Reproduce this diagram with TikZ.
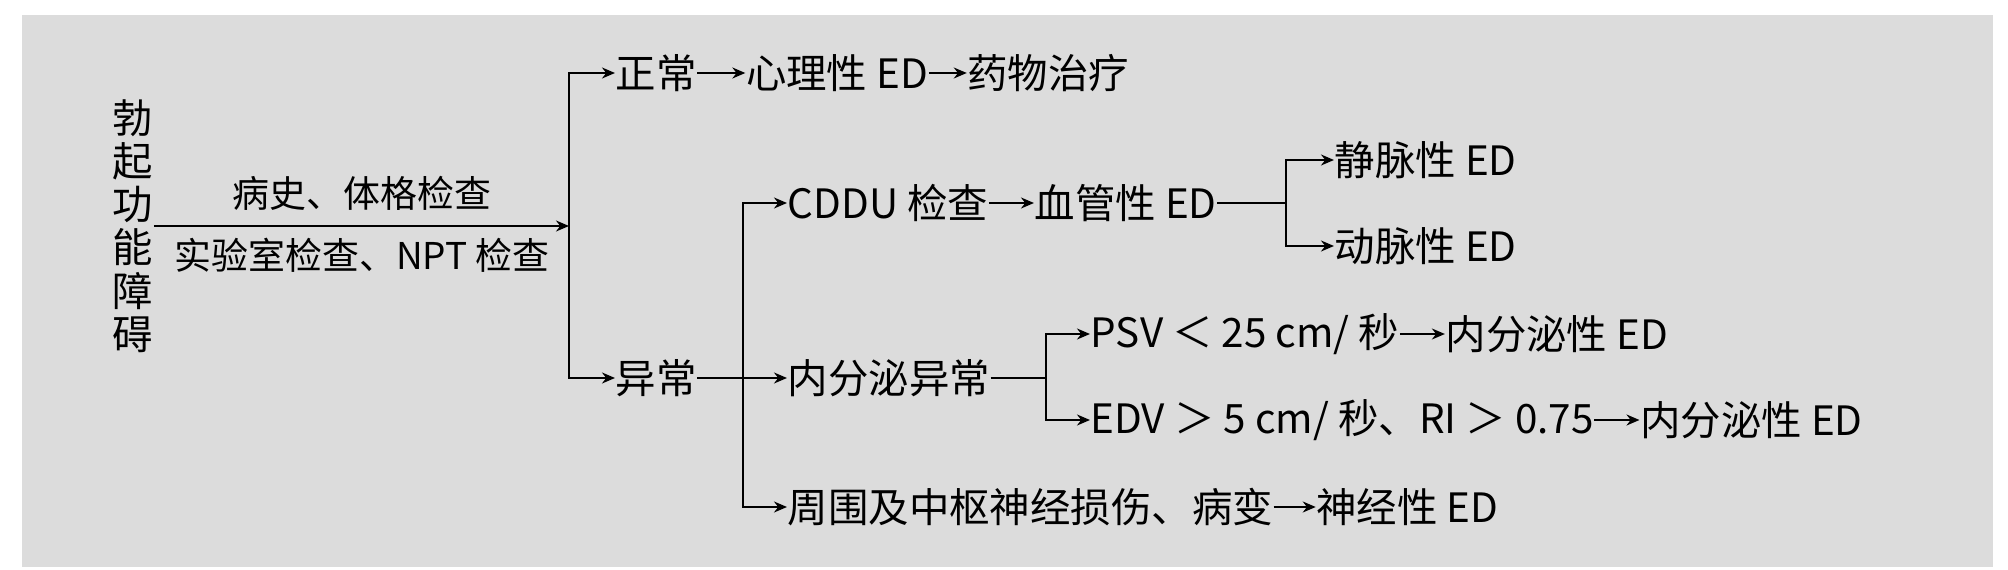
\documentclass[tikz,border=0pt]{standalone}
\usepackage{fontspec}
\setmainfont{Noto Sans CJK SC}
\usetikzlibrary{positioning,arrows.meta}
\definecolor{panel}{HTML}{DCDCDC}
\tikzset{
  lbl/.style={inner sep=0pt, anchor=west, font=\fontsize{11.5}{12.2}\selectfont},
  arr/.style={-{Stealth[length=1.3mm,width=1.1mm]}, line width=0.5pt},
  ln/.style={line width=0.5pt}
}
\begin{document}
\begin{tikzpicture}[x=0.01cm,y=-0.01cm]
\useasboundingbox (0,0) rectangle (2008,570);
\fill[panel] (22,15) rectangle (1993,567);
% root
\node[inner sep=0pt, align=center, font=\fontsize{11.5}{12.3}\selectfont] (root) at (133,226) {勃\\起\\功\\能\\障\\碍};
\coordinate (split) at (569,226);
\draw[arr] (root.east) -- (split);
\node[inner sep=0pt, font=\fontsize{10.5}{12}\selectfont] (hist) at (362,193) {病史、体格检查};
\node[inner sep=0pt, font=\fontsize{10.5}{12}\selectfont] (lab) at (362,255) {实验室检查、NPT 检查};
% normal
\node[lbl] (zc) at (615,73) {正常};
\node[lbl, right=0.48cm of zc] (xl) {心理性 ED};
\node[lbl, right=0.38cm of xl] (yw) {药物治疗};
\draw[arr] (split) |- (zc.west);
\draw[arr] (zc) -- (xl);
\draw[arr] (xl) -- (yw);
% abnormal
\node[lbl] (yc) at (615,378) {异常};
\draw[arr] (split) |- (yc.west);
\coordinate (split2) at (743,378);
\draw[ln] (yc) -- (split2);
\node[lbl] (cddu) at (787,203) {CDDU 检查};
\node[lbl, right=0.45cm of cddu] (xg) {血管性 ED};
\node[lbl] (nfm) at (787,378) {内分泌异常};
\node[lbl] (zw) at (787,507) {周围及中枢神经损伤、病变};
\node[lbl, right=0.42cm of zw] (sj) {神经性 ED};
\draw[arr] (split2) |- (cddu.west);
\draw[arr] (split2) -- (nfm.west);
\draw[arr] (split2) |- (zw.west);
\draw[arr] (cddu) -- (xg);
\draw[arr] (zw) -- (sj);
% vascular
\coordinate (split3) at (1286,203);
\node[lbl] (jm) at (1334,160) {静脉性 ED};
\node[lbl] (dm) at (1334,246) {动脉性 ED};
\draw[ln] (xg) -- (split3);
\draw[arr] (split3) |- (jm.west);
\draw[arr] (split3) |- (dm.west);
% endocrine
\coordinate (split4) at (1046,378);
\node[lbl] (psv) at (1090,334) {PSV ＜ 25 cm/ 秒};
\node[lbl, right=0.45cm of psv] (nf1) {内分泌性 ED};
\node[lbl] (edv) at (1090,420) {EDV ＞ 5 cm/ 秒、RI ＞ 0.75};
\node[lbl, right=0.45cm of edv] (nf2) {内分泌性 ED};
\draw[ln] (nfm) -- (split4);
\draw[arr] (split4) |- (psv.west);
\draw[arr] (split4) |- (edv.west);
\draw[arr] (psv) -- (nf1);
\draw[arr] (edv) -- (nf2);
\end{tikzpicture}
\end{document}
